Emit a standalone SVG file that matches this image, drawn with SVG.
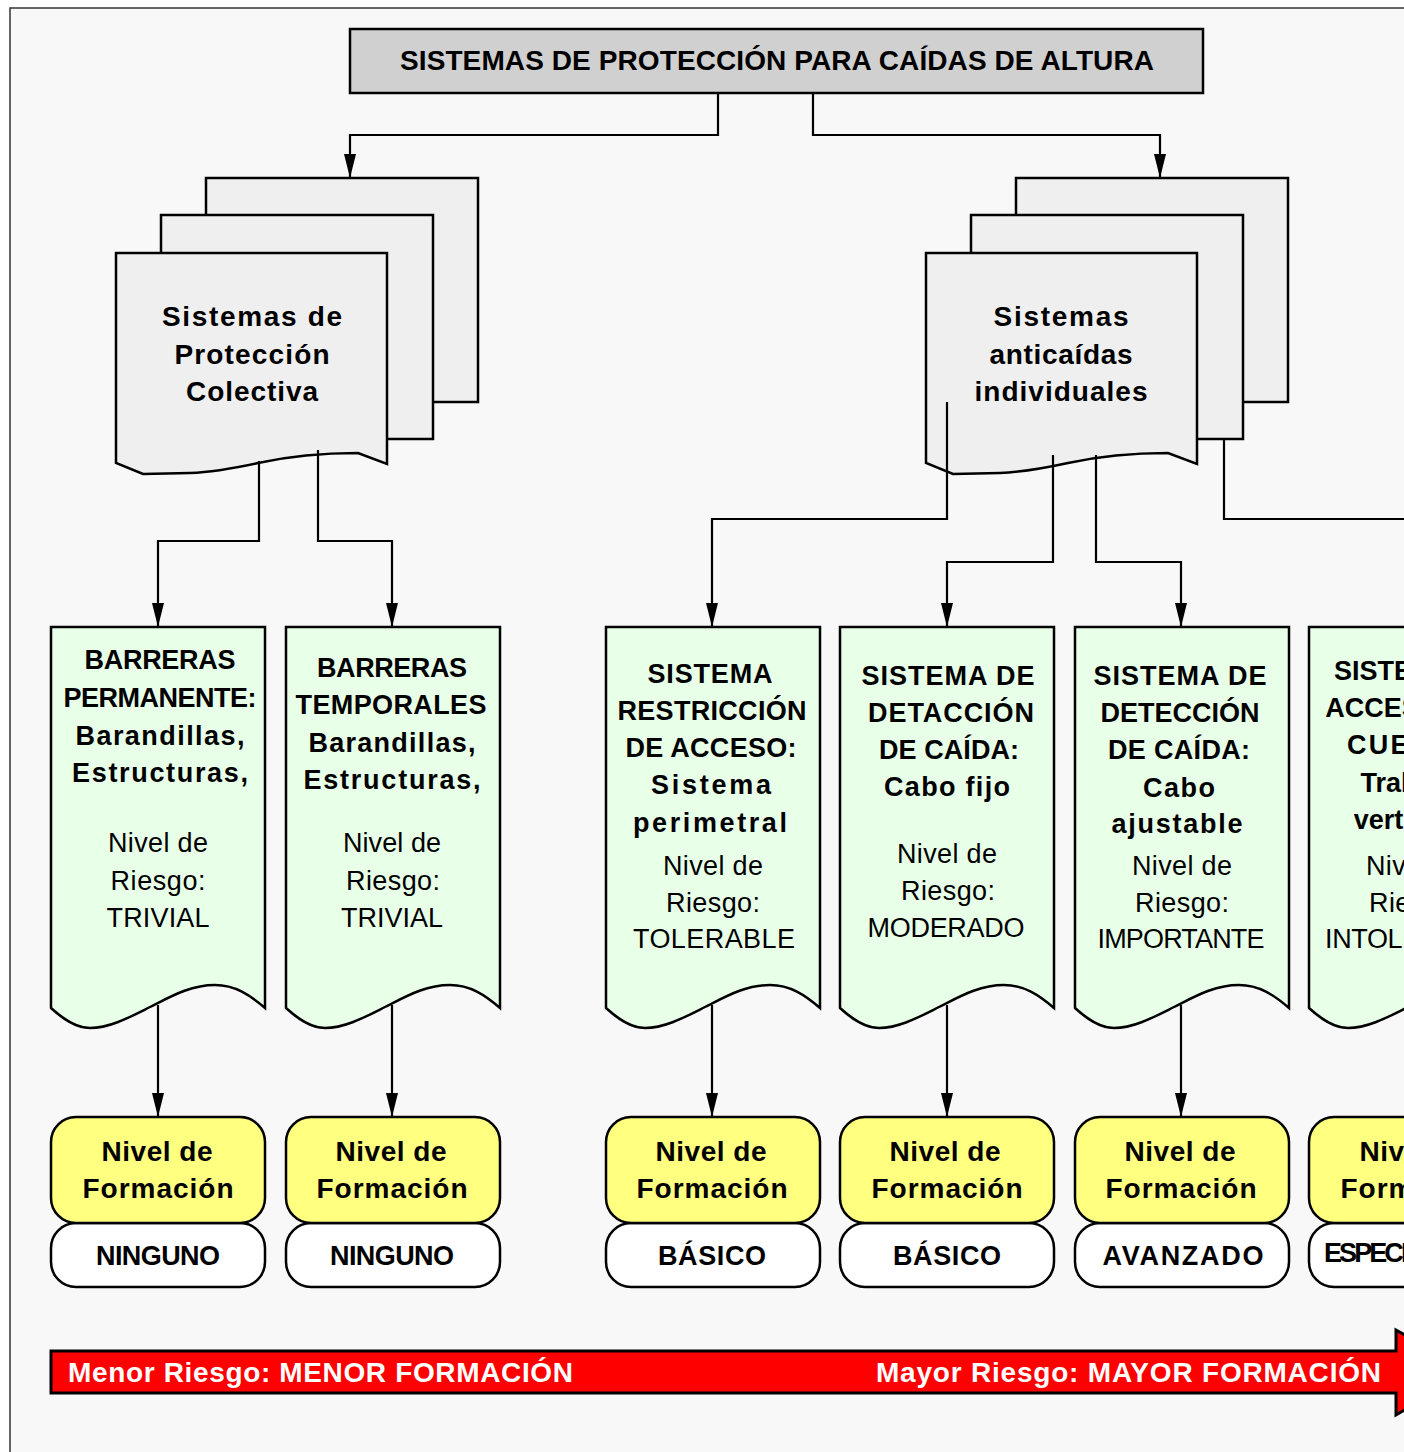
<svg xmlns="http://www.w3.org/2000/svg" width="1404" height="1452" viewBox="0 0 1404 1452">
<defs>
<style>
text{font-family:"Liberation Sans",Arial,sans-serif;text-anchor:middle;fill:#000}
.t{font-size:28px;font-weight:bold}
.d{font-size:28px;font-weight:bold}
.b{font-size:27px;font-weight:bold}
.r{font-size:27px}
.y{font-size:28px;font-weight:bold}
.w{font-size:27px;font-weight:bold}
.a{font-size:28px;font-weight:bold;fill:#fff;text-anchor:start}
.doc{fill:#efefef;stroke:#000;stroke-width:2.5}
.grn{fill:#e8ffe8;stroke:#000;stroke-width:2.5}
.yel{fill:#ffff80;stroke:#000;stroke-width:2.5}
.wht{fill:#fff;stroke:#000;stroke-width:2.5}
.ca{fill:none;stroke:#000;stroke-width:2.2;marker-end:url(#ah)}
</style>
<marker id="ah" markerUnits="userSpaceOnUse" markerWidth="24" markerHeight="12" refX="24" refY="6" orient="auto" viewBox="0 0 24 12">
<path d="M0,0 L24,6 L0,12 Z" fill="#000"/>
</marker>
<path id="g" d="M0,0 h214 V381 c-15,-13 -30,-23 -50,-23 c-25,0 -45,12 -65,22 c-20,10 -40,21 -60,21 c-15,0 -28,-10 -39,-20 Z"/>
</defs>
<rect x="0" y="0" width="1404" height="1452" fill="#fff"/>
<rect x="10" y="8" width="1430" height="1470" fill="#f8f8f8" stroke="#333" stroke-width="1.5"/>

<g id="title">
<rect x="350" y="29" width="853" height="64" fill="#d0d0d0" stroke="#000" stroke-width="2.5"/>
<text class="t" x="777" y="70" textLength="754">SISTEMAS DE PROTECCIÓN PARA CAÍDAS DE ALTURA</text>
</g>

<g id="colectiva">
<rect class="doc" x="206" y="178" width="272" height="224"/>
<rect class="doc" x="161" y="215" width="272" height="224"/>
<path class="doc" d="M116,253 H387 V464 L358,453 C320,453 290,456 258,463 C235,468 215,472 190,473 L143,474 L116,463 Z"/>
<text class="d" x="252" y="326" textLength="180">Sistemas de</text>
<text class="d" x="252" y="364" textLength="155">Protección</text>
<text class="d" x="252" y="401" textLength="132">Colectiva</text>
</g>

<g id="individuales">
<rect class="doc" x="1016" y="178" width="272" height="224"/>
<rect class="doc" x="971" y="215" width="272" height="224"/>
<path class="doc" d="M926,253 H1197 V464 L1168,453 C1130,453 1100,456 1068,463 C1045,468 1025,472 1000,473 L953,474 L926,463 Z"/>
<text class="d" x="1061" y="326" textLength="135">Sistemas</text>
<text class="d" x="1061" y="364" textLength="143">anticaídas</text>
<text class="d" x="1061" y="401" textLength="173">individuales</text>
</g>

<g id="permanentes">
<use href="#g" x="51" y="627" class="grn"/>
<text class="b" x="160" y="669" textLength="151">BARRERAS</text>
<text class="b" x="160" y="707" textLength="193">PERMANENTE:</text>
<text class="b" x="160" y="745" textLength="169">Barandillas,</text>
<text class="b" x="160" y="782" textLength="176">Estructuras,</text>
<text class="r" x="158" y="852" textLength="100">Nivel de</text>
<text class="r" x="158" y="890" textLength="95">Riesgo:</text>
<text class="r" x="158" y="927" textLength="103">TRIVIAL</text>
</g>

<g id="temporales">
<use href="#g" x="286" y="627" class="grn"/>
<text class="b" x="392" y="677" textLength="150">BARRERAS</text>
<text class="b" x="391" y="714" textLength="191">TEMPORALES</text>
<text class="b" x="392" y="752" textLength="167">Barandillas,</text>
<text class="b" x="392" y="789" textLength="177">Estructuras,</text>
<text class="r" x="392" y="852" textLength="98">Nivel de</text>
<text class="r" x="393" y="890" textLength="94">Riesgo:</text>
<text class="r" x="392" y="927" textLength="102">TRIVIAL</text>
</g>

<g id="restriccion">
<use href="#g" x="606" y="627" class="grn"/>
<text class="b" x="710" y="683" textLength="125">SISTEMA</text>
<text class="b" x="712" y="720" textLength="189">RESTRICCIÓN</text>
<text class="b" x="711" y="757" textLength="171">DE ACCESO:</text>
<text class="b" x="711" y="794" textLength="120">Sistema</text>
<text class="b" x="710" y="832" textLength="154">perimetral</text>
<text class="r" x="713" y="875" textLength="100">Nivel de</text>
<text class="r" x="713" y="912" textLength="94">Riesgo:</text>
<text class="r" x="714" y="948" textLength="162">TOLERABLE</text>
</g>

<g id="cabo-fijo">
<use href="#g" x="840" y="627" class="grn"/>
<text class="b" x="948" y="685" textLength="173">SISTEMA DE</text>
<text class="b" x="951" y="722" textLength="166">DETACCIÓN</text>
<text class="b" x="949" y="759" textLength="140">DE CAÍDA:</text>
<text class="b" x="947" y="796" textLength="126">Cabo fijo</text>
<text class="r" x="947" y="863" textLength="100">Nivel de</text>
<text class="r" x="948" y="900" textLength="94">Riesgo:</text>
<text class="r" x="946" y="937" textLength="157">MODERADO</text>
</g>

<g id="cabo-ajustable">
<use href="#g" x="1075" y="627" class="grn"/>
<text class="b" x="1180" y="685" textLength="173">SISTEMA DE</text>
<text class="b" x="1180" y="722" textLength="159">DETECCIÓN</text>
<text class="b" x="1179" y="759" textLength="142">DE CAÍDA:</text>
<text class="b" x="1179" y="797" textLength="72">Cabo</text>
<text class="b" x="1177" y="833" textLength="131">ajustable</text>
<text class="r" x="1182" y="875" textLength="100">Nivel de</text>
<text class="r" x="1182" y="912" textLength="94">Riesgo:</text>
<text class="r" x="1181" y="948" textLength="167">IMPORTANTE</text>
</g>

<g id="cuerda">
<use href="#g" x="1309" y="627" class="grn"/>
<text class="b" x="1416" y="680">SISTEMA DE</text>
<text class="b" x="1416" y="717">ACCESO POR</text>
<text class="b" x="1416" y="754" textLength="138">CUERDA:</text>
<text class="b" x="1416" y="792">Trabajos</text>
<text class="b" x="1416" y="829">verticales</text>
<text class="r" x="1416" y="875" textLength="100">Nivel de</text>
<text class="r" x="1416" y="912" textLength="94">Riesgo:</text>
<text class="r" x="1416" y="948" textLength="182">INTOLERABLE</text>
</g>

<g id="formacion-1">
<rect class="wht" x="51" y="1223" width="214" height="64" rx="25"/>
<rect class="yel" x="51" y="1117" width="214" height="106" rx="25"/>
<text class="y" x="157" y="1161" textLength="111">Nivel de</text>
<text class="y" x="158" y="1198" textLength="151">Formación</text>
<text class="w" x="158" y="1265" textLength="124">NINGUNO</text>
</g>
<g id="formacion-2">
<rect class="wht" x="286" y="1223" width="214" height="64" rx="25"/>
<rect class="yel" x="286" y="1117" width="214" height="106" rx="25"/>
<text class="y" x="391" y="1161" textLength="111">Nivel de</text>
<text class="y" x="392" y="1198" textLength="151">Formación</text>
<text class="w" x="392" y="1265" textLength="124">NINGUNO</text>
</g>
<g id="formacion-3">
<rect class="wht" x="606" y="1223" width="214" height="64" rx="25"/>
<rect class="yel" x="606" y="1117" width="214" height="106" rx="25"/>
<text class="y" x="711" y="1161" textLength="111">Nivel de</text>
<text class="y" x="712" y="1198" textLength="151">Formación</text>
<text class="w" x="712" y="1265" textLength="108">BÁSICO</text>
</g>
<g id="formacion-4">
<rect class="wht" x="840" y="1223" width="214" height="64" rx="25"/>
<rect class="yel" x="840" y="1117" width="214" height="106" rx="25"/>
<text class="y" x="945" y="1161" textLength="111">Nivel de</text>
<text class="y" x="947" y="1198" textLength="151">Formación</text>
<text class="w" x="947" y="1265" textLength="108">BÁSICO</text>
</g>
<g id="formacion-5">
<rect class="wht" x="1075" y="1223" width="214" height="64" rx="25"/>
<rect class="yel" x="1075" y="1117" width="214" height="106" rx="25"/>
<text class="y" x="1180" y="1161" textLength="111">Nivel de</text>
<text class="y" x="1181" y="1198" textLength="151">Formación</text>
<text class="w" x="1183" y="1265" textLength="161">AVANZADO</text>
</g>
<g id="formacion-6">
<rect class="wht" x="1309" y="1223" width="214" height="64" rx="25"/>
<rect class="yel" x="1309" y="1117" width="214" height="106" rx="25"/>
<text class="y" x="1415" y="1161" textLength="111">Nivel de</text>
<text class="y" x="1416" y="1198" textLength="151">Formación</text>
<text class="w" x="1416" y="1262" font-size="23" textLength="184">ESPECIALIZADO</text>
</g>

<g id="connectors">
<path class="ca" d="M718,93 V135 H350 V178"/>
<path class="ca" d="M813,93 V135 H1160 V178"/>
<path class="ca" d="M259,461 V541 H158 V627"/>
<path class="ca" d="M318,450 V541 H392 V627"/>
<path class="ca" d="M947,402 V519 H712 V627"/>
<path class="ca" d="M1053,455 V562 H947 V627"/>
<path class="ca" d="M1096,455 V562 H1181 V627"/>
<path class="ca" d="M1224,439 V519 H1416 V627"/>
<path class="ca" d="M158,1005 V1117"/>
<path class="ca" d="M392,1005 V1117"/>
<path class="ca" d="M712,1005 V1117"/>
<path class="ca" d="M947,1005 V1117"/>
<path class="ca" d="M1181,1005 V1117"/>
<path class="ca" d="M1416,1005 V1117"/>
</g>

<g id="escala">
<path d="M51,1351 H1396 V1330 L1470,1372 L1396,1415 V1393 H51 Z" fill="#ff0000" stroke="#000" stroke-width="3"/>
<text class="a" x="68" y="1382" textLength="505">Menor Riesgo: MENOR FORMACIÓN</text>
<text class="a" x="876" y="1382" textLength="505">Mayor Riesgo: MAYOR FORMACIÓN</text>
</g>
</svg>
